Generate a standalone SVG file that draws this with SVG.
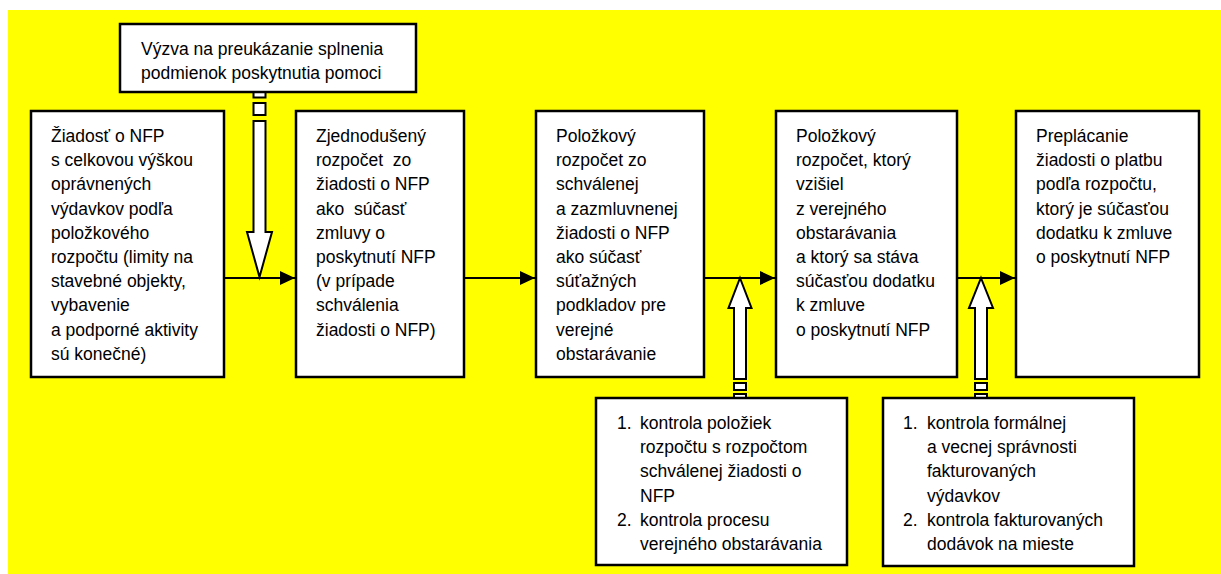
<svg xmlns="http://www.w3.org/2000/svg" width="1221" height="574" viewBox="0 0 1221 574">
<style>
.box{fill:#fff;stroke:#000;stroke-width:2.5}
.blk{fill:#fff;stroke:#000;stroke-width:2}
.con{fill:none;stroke:#000;stroke-width:2}
text{font-family:"Liberation Sans",Arial,sans-serif;font-size:17.5px;fill:#000;white-space:pre}
</style>
<defs>
<marker id="ah" markerUnits="userSpaceOnUse" markerWidth="15" markerHeight="14" refX="15" refY="7" orient="auto">
<path d="M0,0 L15,7 L0,14 Z" fill="#000"/>
</marker>
</defs>
<rect x="8" y="10" width="1213" height="564" fill="#ffff00"/>
<g id="connectors">
<line class="con" x1="224" y1="278" x2="295" y2="278" marker-end="url(#ah)"/>
<line class="con" x1="464" y1="278" x2="535" y2="278" marker-end="url(#ah)"/>
<line class="con" x1="704" y1="278" x2="775" y2="278" marker-end="url(#ah)"/>
<line class="con" x1="957" y1="278" x2="1015" y2="278" marker-end="url(#ah)"/>
<g id="arrow-down">
<rect class="blk" x="253.5" y="91" width="12" height="6.5"/>
<rect class="blk" x="253.5" y="103" width="12" height="12"/>
<path class="blk" d="M253.5,121 H265.5 V232 H272 L259.5,277 L247,232 H253.5 Z"/>
</g>
<g id="arrow-up-1">
<path class="blk" d="M740,278 L751.5,308 H746 V379 H734 V308 H728.5 Z"/>
<rect class="blk" x="734" y="383" width="12" height="7"/>
<rect class="blk" x="734" y="394" width="12" height="6"/>
</g>
<g id="arrow-up-2">
<path class="blk" d="M981,278 L993,308 H987 V379 H975 V308 H969 Z"/>
<rect class="blk" x="975" y="383" width="12" height="7"/>
<rect class="blk" x="975" y="394" width="12" height="6"/>
</g>
</g>
<g id="node-vyzva">
<rect class="box" x="120" y="24" width="296" height="68"/>
<text x="141" y="55">Výzva na preukázanie splnenia</text>
<text x="141" y="79">podmienok poskytnutia pomoci</text>
</g>
<g id="node-ziadost">
<rect class="box" x="31" y="111" width="193" height="266"/>
<text x="51" y="142">Žiadosť o NFP</text>
<text x="51" y="166.2">s celkovou výškou</text>
<text x="51" y="190.4">oprávnených</text>
<text x="51" y="214.6">výdavkov podľa</text>
<text x="51" y="238.8">položkového</text>
<text x="51" y="263">rozpočtu (limity na</text>
<text x="51" y="287.2">stavebné objekty,</text>
<text x="51" y="311.4">vybavenie</text>
<text x="51" y="335.6">a podporné aktivity</text>
<text x="51" y="359.8">sú konečné)</text>
</g>
<g id="node-zjednoduseny">
<rect class="box" x="296" y="111" width="168" height="266"/>
<text x="316" y="142">Zjednodušený</text>
<text x="316" y="166.2">rozpočet  zo</text>
<text x="316" y="190.4">žiadosti o NFP</text>
<text x="316" y="214.6">ako  súčasť</text>
<text x="316" y="238.8">zmluvy o</text>
<text x="316" y="263">poskytnutí NFP</text>
<text x="316" y="287.2">(v prípade</text>
<text x="316" y="311.4">schválenia</text>
<text x="316" y="335.6">žiadosti o NFP)</text>
</g>
<g id="node-polozkovy1">
<rect class="box" x="536" y="111" width="168" height="266"/>
<text x="556" y="142">Položkový</text>
<text x="556" y="166.2">rozpočet zo</text>
<text x="556" y="190.4">schválenej</text>
<text x="556" y="214.6">a zazmluvnenej</text>
<text x="556" y="238.8">žiadosti o NFP</text>
<text x="556" y="263">ako súčasť</text>
<text x="556" y="287.2">súťažných</text>
<text x="556" y="311.4">podkladov pre</text>
<text x="556" y="335.6">verejné</text>
<text x="556" y="359.8">obstarávanie</text>
</g>
<g id="node-polozkovy2">
<rect class="box" x="776" y="111" width="181" height="266"/>
<text x="796" y="142">Položkový</text>
<text x="796" y="166.2">rozpočet, ktorý</text>
<text x="796" y="190.4">vzišiel</text>
<text x="796" y="214.6">z verejného</text>
<text x="796" y="238.8">obstarávania</text>
<text x="796" y="263">a ktorý sa stáva</text>
<text x="796" y="287.2">súčasťou dodatku</text>
<text x="796" y="311.4">k zmluve</text>
<text x="796" y="335.6">o poskytnutí NFP</text>
</g>
<g id="node-preplacanie">
<rect class="box" x="1016" y="111" width="183" height="266"/>
<text x="1036" y="142">Preplácanie</text>
<text x="1036" y="166.2">žiadosti o platbu</text>
<text x="1036" y="190.4">podľa rozpočtu,</text>
<text x="1036" y="214.6">ktorý je súčasťou</text>
<text x="1036" y="238.8">dodatku k zmluve</text>
<text x="1036" y="263">o poskytnutí NFP</text>
</g>
<g id="node-kontrola1">
<rect class="box" x="596" y="398" width="251" height="167"/>
<text x="617" y="429">1.</text>
<text x="640" y="429">kontrola položiek</text>
<text x="640" y="453.2">rozpočtu s rozpočtom</text>
<text x="640" y="477.4">schválenej žiadosti o</text>
<text x="640" y="501.6">NFP</text>
<text x="617" y="525.8">2.</text>
<text x="640" y="525.8">kontrola procesu</text>
<text x="640" y="550">verejného obstarávania</text>
</g>
<g id="node-kontrola2">
<rect class="box" x="883" y="398" width="251" height="168"/>
<text x="903" y="429">1.</text>
<text x="927" y="429">kontrola formálnej</text>
<text x="927" y="453.2">a vecnej správnosti</text>
<text x="927" y="477.4">fakturovaných</text>
<text x="927" y="501.6">výdavkov</text>
<text x="903" y="525.8">2.</text>
<text x="927" y="525.8">kontrola fakturovaných</text>
<text x="927" y="550">dodávok na mieste</text>
</g>
</svg>
